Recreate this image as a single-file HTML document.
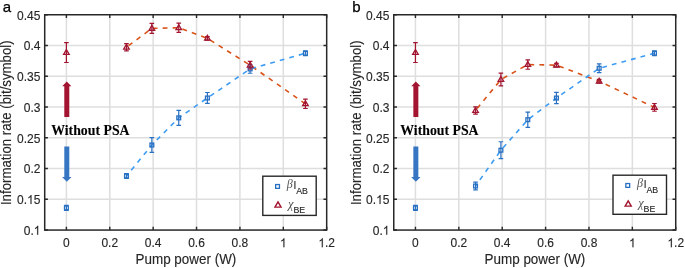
<!DOCTYPE html>
<html><head><meta charset="utf-8"><style>
html,body{margin:0;padding:0;background:#fff;}
body{width:685px;height:268px;overflow:hidden;}
svg{display:block;will-change:transform;}
text{font-family:"Liberation Sans",sans-serif;fill:#262626;stroke:#262626;stroke-width:0.12;}
</style></head><body>
<svg width="685" height="268" viewBox="0 0 685 268">
<rect width="685" height="268" fill="#fff"/>

<path d="M66.40 14.75 V230.07 M109.78 14.75 V230.07 M153.16 14.75 V230.07 M196.54 14.75 V230.07 M239.92 14.75 V230.07 M283.30 14.75 V230.07 M44.71 199.31 H326.68 M44.71 168.55 H326.68 M44.71 137.79 H326.68 M44.71 107.03 H326.68 M44.71 76.27 H326.68 M44.71 45.51 H326.68" stroke="#dedede" stroke-width="1.5" fill="none"/>
<path d="M126.48 47.23 L151.86 28.41 L178.75 27.73 L207.39 38.37 L250.11 65.20 L305.42 103.83" stroke="#d95319" stroke-width="1.6" fill="none" stroke-dasharray="4.8 5.18" stroke-dashoffset="7.45"/>
<path d="M126.48 175.99 L151.86 144.99 L178.75 117.86 L207.39 97.99 L250.11 68.95 L305.42 53.26" stroke="#3d9cf2" stroke-width="1.6" fill="none" stroke-dasharray="4.8 5.10" stroke-dashoffset="2.40"/>
<path d="M66.40 205.46 V210.38 M64.10 205.46 H68.70 M64.10 210.38 H68.70" stroke="#2870c2" stroke-width="1.20" fill="none"/>
<rect x="64.50" y="206.02" width="3.80" height="3.80" fill="none" stroke="#2870c2" stroke-width="1.30"/>
<path d="M126.48 173.53 V178.45 M124.18 173.53 H128.78 M124.18 178.45 H128.78" stroke="#2870c2" stroke-width="1.20" fill="none"/>
<rect x="124.58" y="174.09" width="3.80" height="3.80" fill="none" stroke="#2870c2" stroke-width="1.30"/>
<path d="M151.86 137.54 V152.43 M149.56 137.54 H154.16 M149.56 152.43 H154.16" stroke="#2870c2" stroke-width="1.20" fill="none"/>
<rect x="149.96" y="143.09" width="3.80" height="3.80" fill="none" stroke="#2870c2" stroke-width="1.30"/>
<path d="M178.75 110.35 V125.36 M176.45 110.35 H181.05 M176.45 125.36 H181.05" stroke="#2870c2" stroke-width="1.20" fill="none"/>
<rect x="176.85" y="115.96" width="3.80" height="3.80" fill="none" stroke="#2870c2" stroke-width="1.30"/>
<path d="M207.39 92.51 V103.46 M205.09 92.51 H209.69 M205.09 103.46 H209.69" stroke="#2870c2" stroke-width="1.20" fill="none"/>
<rect x="205.49" y="96.09" width="3.80" height="3.80" fill="none" stroke="#2870c2" stroke-width="1.30"/>
<path d="M250.11 64.64 V73.26 M247.81 64.64 H252.41 M247.81 73.26 H252.41" stroke="#2870c2" stroke-width="1.20" fill="none"/>
<rect x="248.21" y="67.05" width="3.80" height="3.80" fill="none" stroke="#2870c2" stroke-width="1.30"/>
<path d="M305.42 50.80 V55.72 M303.12 50.80 H307.72 M303.12 55.72 H307.72" stroke="#2870c2" stroke-width="1.20" fill="none"/>
<rect x="303.52" y="51.36" width="3.80" height="3.80" fill="none" stroke="#2870c2" stroke-width="1.30"/>
<path d="M66.40 42.68 V62.49 M64.10 42.68 H68.70 M64.10 62.49 H68.70" stroke="#a2142f" stroke-width="1.20" fill="none"/>
<path d="M66.40 49.58 L69.20 54.43 L63.60 54.43 Z" fill="none" stroke="#a2142f" stroke-width="1.30"/>
<path d="M126.48 43.54 V50.92 M124.18 43.54 H128.78 M124.18 50.92 H128.78" stroke="#a2142f" stroke-width="1.20" fill="none"/>
<path d="M126.48 44.23 L129.28 49.08 L123.68 49.08 Z" fill="none" stroke="#a2142f" stroke-width="1.30"/>
<path d="M151.86 23.36 V33.45 M149.56 23.36 H154.16 M149.56 33.45 H154.16" stroke="#a2142f" stroke-width="1.20" fill="none"/>
<path d="M151.86 25.40 L154.66 30.25 L149.06 30.25 Z" fill="none" stroke="#a2142f" stroke-width="1.30"/>
<path d="M178.75 23.06 V32.41 M176.45 23.06 H181.05 M176.45 32.41 H181.05" stroke="#a2142f" stroke-width="1.20" fill="none"/>
<path d="M178.75 24.72 L181.55 29.57 L175.95 29.57 Z" fill="none" stroke="#a2142f" stroke-width="1.30"/>
<path d="M207.39 36.53 V40.22 M205.09 36.53 H209.69 M205.09 40.22 H209.69" stroke="#a2142f" stroke-width="1.20" fill="none"/>
<path d="M207.39 35.37 L210.19 40.22 L204.59 40.22 Z" fill="none" stroke="#a2142f" stroke-width="1.30"/>
<path d="M250.11 61.38 V69.01 M247.81 61.38 H252.41 M247.81 69.01 H252.41" stroke="#a2142f" stroke-width="1.20" fill="none"/>
<path d="M250.11 62.19 L252.91 67.04 L247.31 67.04 Z" fill="none" stroke="#a2142f" stroke-width="1.30"/>
<path d="M305.42 99.16 V108.51 M303.12 99.16 H307.72 M303.12 108.51 H307.72" stroke="#a2142f" stroke-width="1.20" fill="none"/>
<path d="M305.42 100.82 L308.22 105.67 L302.62 105.67 Z" fill="none" stroke="#a2142f" stroke-width="1.30"/>
<path d="M62.20 86.3 L66.80 81.4 L71.40 86.3 L69.30 86.3 L69.30 117 L64.30 117 L64.30 86.3 Z" fill="#a2142f"/>
<path d="M64.30 146.5 L69.30 146.5 L69.30 177 L71.50 177 L66.80 181.7 L62.10 177 L64.30 177 Z" fill="#3575c2"/>
<text x="51.20" y="135.3" style="font-family:'Liberation Serif',serif;font-weight:bold;font-size:13.8px;fill:#000">Without PSA</text>
<rect x="44.71" y="14.75" width="281.97" height="215.32" fill="none" stroke="#282828" stroke-width="1.5"/>
<path d="M66.40 230.07 v-3.2 M66.40 14.75 v3.2 M109.78 230.07 v-3.2 M109.78 14.75 v3.2 M153.16 230.07 v-3.2 M153.16 14.75 v3.2 M196.54 230.07 v-3.2 M196.54 14.75 v3.2 M239.92 230.07 v-3.2 M239.92 14.75 v3.2 M283.30 230.07 v-3.2 M283.30 14.75 v3.2 M326.68 230.07 v-3.2 M326.68 14.75 v3.2 M44.71 230.07 h3.2 M326.68 230.07 h-3.2 M44.71 199.31 h3.2 M326.68 199.31 h-3.2 M44.71 168.55 h3.2 M326.68 168.55 h-3.2 M44.71 137.79 h3.2 M326.68 137.79 h-3.2 M44.71 107.03 h3.2 M326.68 107.03 h-3.2 M44.71 76.27 h3.2 M326.68 76.27 h-3.2 M44.71 45.51 h3.2 M326.68 45.51 h-3.2 M44.71 14.75 h3.2 M326.68 14.75 h-3.2" stroke="#282828" stroke-width="1.4" fill="none"/>
<g transform="translate(63.06 247.30) scale(1 1.050)"><text x="0" y="0" font-size="12">0</text></g>
<g transform="translate(101.44 247.30) scale(1 1.050)"><text x="0" y="0" font-size="12">0.2</text></g>
<g transform="translate(144.82 247.30) scale(1 1.050)"><text x="0" y="0" font-size="12">0.4</text></g>
<g transform="translate(188.20 247.30) scale(1 1.050)"><text x="0" y="0" font-size="12">0.6</text></g>
<g transform="translate(231.58 247.30) scale(1 1.050)"><text x="0" y="0" font-size="12">0.8</text></g>
<g transform="translate(279.96 247.30) scale(1 1.050)"><text x="0" y="0" font-size="12"><tspan visibility="hidden">1</tspan></text><path transform="translate(0.000 0) scale(0.005859 -0.005859)" d="M763 0L583 0L583 1147Q518 1085 412 1023Q306 961 221 930L221 1104Q372 1175 485 1276Q598 1377 645 1472L763 1472Z" fill="#262626" stroke="#262626" stroke-width="16"/></g>
<g transform="translate(318.34 247.30) scale(1 1.050)"><text x="0" y="0" font-size="12"><tspan visibility="hidden">1</tspan>.2</text><path transform="translate(0.000 0) scale(0.005859 -0.005859)" d="M763 0L583 0L583 1147Q518 1085 412 1023Q306 961 221 930L221 1104Q372 1175 485 1276Q598 1377 645 1472L763 1472Z" fill="#262626" stroke="#262626" stroke-width="16"/></g>
<g transform="translate(23.73 234.87) scale(1 1.050)"><text x="0" y="0" font-size="12">0.<tspan visibility="hidden">1</tspan></text><path transform="translate(10.008 0) scale(0.005859 -0.005859)" d="M763 0L583 0L583 1147Q518 1085 412 1023Q306 961 221 930L221 1104Q372 1175 485 1276Q598 1377 645 1472L763 1472Z" fill="#262626" stroke="#262626" stroke-width="16"/></g>
<g transform="translate(17.05 204.11) scale(1 1.050)"><text x="0" y="0" font-size="12">0.<tspan visibility="hidden">1</tspan>5</text><path transform="translate(10.008 0) scale(0.005859 -0.005859)" d="M763 0L583 0L583 1147Q518 1085 412 1023Q306 961 221 930L221 1104Q372 1175 485 1276Q598 1377 645 1472L763 1472Z" fill="#262626" stroke="#262626" stroke-width="16"/></g>
<g transform="translate(23.73 173.35) scale(1 1.050)"><text x="0" y="0" font-size="12">0.2</text></g>
<g transform="translate(17.05 142.59) scale(1 1.050)"><text x="0" y="0" font-size="12">0.25</text></g>
<g transform="translate(23.73 111.83) scale(1 1.050)"><text x="0" y="0" font-size="12">0.3</text></g>
<g transform="translate(17.05 81.07) scale(1 1.050)"><text x="0" y="0" font-size="12">0.35</text></g>
<g transform="translate(23.73 50.31) scale(1 1.050)"><text x="0" y="0" font-size="12">0.4</text></g>
<g transform="translate(17.05 19.55) scale(1 1.050)"><text x="0" y="0" font-size="12">0.45</text></g>
<text transform="translate(185.89 264) scale(1 1.06)" font-size="13.45" text-anchor="middle">Pump power (W)</text>
<text transform="translate(11.40 122.71) rotate(-90) scale(1 1.04)" font-size="13.25" text-anchor="middle">Information rate (bit/symbol)</text>
<text x="2.70" y="12.0" font-size="15" style="fill:#000;stroke:#000;stroke-width:0.25">a</text>
<rect x="262.80" y="176.20" width="53.40" height="39.20" fill="#fff" stroke="#282828" stroke-width="1.4"/>
<rect x="275.65" y="184.55" width="3.80" height="3.80" fill="none" stroke="#2870c2" stroke-width="1.30"/>
<path d="M278.00 201.82 L281.05 207.11 L274.95 207.11 Z" fill="none" stroke="#a2142f" stroke-width="1.40"/>
<text x="286.80" y="188.40" style="font-family:'Liberation Serif',serif;font-style:italic;font-size:12px;fill:#555;stroke:none">&#946;</text>
<text x="293.50" y="189.00" font-size="10">I</text>
<text x="296.20" y="193.50" font-size="8.8">AB</text>
<text x="288.10" y="207.50" style="font-family:'Liberation Serif',serif;font-style:italic;font-size:12.5px;fill:#555;stroke:none">&#967;</text>
<text x="293.40" y="212.60" font-size="8.8">BE</text>
<path d="M415.45 14.75 V230.07 M458.83 14.75 V230.07 M502.21 14.75 V230.07 M545.59 14.75 V230.07 M588.97 14.75 V230.07 M632.35 14.75 V230.07 M393.76 199.31 H675.73 M393.76 168.55 H675.73 M393.76 137.79 H675.73 M393.76 107.03 H675.73 M393.76 76.27 H675.73 M393.76 45.51 H675.73" stroke="#dedede" stroke-width="1.5" fill="none"/>
<path d="M475.53 110.48 L500.91 79.53 L527.80 64.58 L556.43 65.13 L599.16 81.25 L654.47 107.40" stroke="#d95319" stroke-width="1.6" fill="none" stroke-dasharray="4.8 5.18" stroke-dashoffset="7.45"/>
<path d="M475.53 186.02 L500.91 150.22 L527.80 119.70 L556.43 98.05 L599.16 68.27 L654.47 53.26" stroke="#3d9cf2" stroke-width="1.6" fill="none" stroke-dasharray="4.8 5.10" stroke-dashoffset="2.40"/>
<path d="M415.45 205.46 V210.38 M413.15 205.46 H417.75 M413.15 210.38 H417.75" stroke="#2870c2" stroke-width="1.20" fill="none"/>
<rect x="413.55" y="206.02" width="3.80" height="3.80" fill="none" stroke="#2870c2" stroke-width="1.30"/>
<path d="M475.53 182.15 V189.90 M473.23 182.15 H477.83 M473.23 189.90 H477.83" stroke="#2870c2" stroke-width="1.20" fill="none"/>
<rect x="473.63" y="184.12" width="3.80" height="3.80" fill="none" stroke="#2870c2" stroke-width="1.30"/>
<path d="M500.91 141.73 V158.71 M498.61 141.73 H503.21 M498.61 158.71 H503.21" stroke="#2870c2" stroke-width="1.20" fill="none"/>
<rect x="499.01" y="148.32" width="3.80" height="3.80" fill="none" stroke="#2870c2" stroke-width="1.30"/>
<path d="M527.80 112.07 V127.33 M525.50 112.07 H530.10 M525.50 127.33 H530.10" stroke="#2870c2" stroke-width="1.20" fill="none"/>
<rect x="525.90" y="117.80" width="3.80" height="3.80" fill="none" stroke="#2870c2" stroke-width="1.30"/>
<path d="M556.43 92.45 V103.65 M554.13 92.45 H558.73 M554.13 103.65 H558.73" stroke="#2870c2" stroke-width="1.20" fill="none"/>
<rect x="554.53" y="96.15" width="3.80" height="3.80" fill="none" stroke="#2870c2" stroke-width="1.30"/>
<path d="M599.16 63.97 V72.58 M596.86 63.97 H601.46 M596.86 72.58 H601.46" stroke="#2870c2" stroke-width="1.20" fill="none"/>
<rect x="597.26" y="66.37" width="3.80" height="3.80" fill="none" stroke="#2870c2" stroke-width="1.30"/>
<path d="M654.47 50.80 V55.72 M652.17 50.80 H656.77 M652.17 55.72 H656.77" stroke="#2870c2" stroke-width="1.20" fill="none"/>
<rect x="652.57" y="51.36" width="3.80" height="3.80" fill="none" stroke="#2870c2" stroke-width="1.30"/>
<path d="M415.45 42.68 V62.49 M413.15 42.68 H417.75 M413.15 62.49 H417.75" stroke="#a2142f" stroke-width="1.20" fill="none"/>
<path d="M415.45 49.58 L418.25 54.43 L412.65 54.43 Z" fill="none" stroke="#a2142f" stroke-width="1.30"/>
<path d="M475.53 106.78 V114.17 M473.23 106.78 H477.83 M473.23 114.17 H477.83" stroke="#a2142f" stroke-width="1.20" fill="none"/>
<path d="M475.53 107.47 L478.33 112.32 L472.73 112.32 Z" fill="none" stroke="#a2142f" stroke-width="1.30"/>
<path d="M500.91 73.19 V85.87 M498.61 73.19 H503.21 M498.61 85.87 H503.21" stroke="#a2142f" stroke-width="1.20" fill="none"/>
<path d="M500.91 76.52 L503.71 81.37 L498.11 81.37 Z" fill="none" stroke="#a2142f" stroke-width="1.30"/>
<path d="M527.80 59.91 V69.26 M525.50 59.91 H530.10 M525.50 69.26 H530.10" stroke="#a2142f" stroke-width="1.20" fill="none"/>
<path d="M527.80 61.57 L530.60 66.42 L525.00 66.42 Z" fill="none" stroke="#a2142f" stroke-width="1.30"/>
<path d="M556.43 63.29 V66.98 M554.13 63.29 H558.73 M554.13 66.98 H558.73" stroke="#a2142f" stroke-width="1.20" fill="none"/>
<path d="M556.43 62.13 L559.23 66.98 L553.63 66.98 Z" fill="none" stroke="#a2142f" stroke-width="1.30"/>
<path d="M599.16 79.41 V83.10 M596.86 79.41 H601.46 M596.86 83.10 H601.46" stroke="#a2142f" stroke-width="1.20" fill="none"/>
<path d="M599.16 78.25 L601.96 83.10 L596.36 83.10 Z" fill="none" stroke="#a2142f" stroke-width="1.30"/>
<path d="M654.47 103.52 V111.27 M652.17 103.52 H656.77 M652.17 111.27 H656.77" stroke="#a2142f" stroke-width="1.20" fill="none"/>
<path d="M654.47 104.39 L657.27 109.24 L651.67 109.24 Z" fill="none" stroke="#a2142f" stroke-width="1.30"/>
<path d="M411.25 86.3 L415.85 81.4 L420.45 86.3 L418.35 86.3 L418.35 117 L413.35 117 L413.35 86.3 Z" fill="#a2142f"/>
<path d="M413.35 146.5 L418.35 146.5 L418.35 177 L420.55 177 L415.85 181.7 L411.15 177 L413.35 177 Z" fill="#3575c2"/>
<text x="400.25" y="135.3" style="font-family:'Liberation Serif',serif;font-weight:bold;font-size:13.8px;fill:#000">Without PSA</text>
<rect x="393.76" y="14.75" width="281.97" height="215.32" fill="none" stroke="#282828" stroke-width="1.5"/>
<path d="M415.45 230.07 v-3.2 M415.45 14.75 v3.2 M458.83 230.07 v-3.2 M458.83 14.75 v3.2 M502.21 230.07 v-3.2 M502.21 14.75 v3.2 M545.59 230.07 v-3.2 M545.59 14.75 v3.2 M588.97 230.07 v-3.2 M588.97 14.75 v3.2 M632.35 230.07 v-3.2 M632.35 14.75 v3.2 M675.73 230.07 v-3.2 M675.73 14.75 v3.2 M393.76 230.07 h3.2 M675.73 230.07 h-3.2 M393.76 199.31 h3.2 M675.73 199.31 h-3.2 M393.76 168.55 h3.2 M675.73 168.55 h-3.2 M393.76 137.79 h3.2 M675.73 137.79 h-3.2 M393.76 107.03 h3.2 M675.73 107.03 h-3.2 M393.76 76.27 h3.2 M675.73 76.27 h-3.2 M393.76 45.51 h3.2 M675.73 45.51 h-3.2 M393.76 14.75 h3.2 M675.73 14.75 h-3.2" stroke="#282828" stroke-width="1.4" fill="none"/>
<g transform="translate(412.11 247.30) scale(1 1.050)"><text x="0" y="0" font-size="12">0</text></g>
<g transform="translate(450.49 247.30) scale(1 1.050)"><text x="0" y="0" font-size="12">0.2</text></g>
<g transform="translate(493.87 247.30) scale(1 1.050)"><text x="0" y="0" font-size="12">0.4</text></g>
<g transform="translate(537.25 247.30) scale(1 1.050)"><text x="0" y="0" font-size="12">0.6</text></g>
<g transform="translate(580.63 247.30) scale(1 1.050)"><text x="0" y="0" font-size="12">0.8</text></g>
<g transform="translate(629.01 247.30) scale(1 1.050)"><text x="0" y="0" font-size="12"><tspan visibility="hidden">1</tspan></text><path transform="translate(0.000 0) scale(0.005859 -0.005859)" d="M763 0L583 0L583 1147Q518 1085 412 1023Q306 961 221 930L221 1104Q372 1175 485 1276Q598 1377 645 1472L763 1472Z" fill="#262626" stroke="#262626" stroke-width="16"/></g>
<g transform="translate(667.39 247.30) scale(1 1.050)"><text x="0" y="0" font-size="12"><tspan visibility="hidden">1</tspan>.2</text><path transform="translate(0.000 0) scale(0.005859 -0.005859)" d="M763 0L583 0L583 1147Q518 1085 412 1023Q306 961 221 930L221 1104Q372 1175 485 1276Q598 1377 645 1472L763 1472Z" fill="#262626" stroke="#262626" stroke-width="16"/></g>
<g transform="translate(372.78 234.87) scale(1 1.050)"><text x="0" y="0" font-size="12">0.<tspan visibility="hidden">1</tspan></text><path transform="translate(10.008 0) scale(0.005859 -0.005859)" d="M763 0L583 0L583 1147Q518 1085 412 1023Q306 961 221 930L221 1104Q372 1175 485 1276Q598 1377 645 1472L763 1472Z" fill="#262626" stroke="#262626" stroke-width="16"/></g>
<g transform="translate(366.10 204.11) scale(1 1.050)"><text x="0" y="0" font-size="12">0.<tspan visibility="hidden">1</tspan>5</text><path transform="translate(10.008 0) scale(0.005859 -0.005859)" d="M763 0L583 0L583 1147Q518 1085 412 1023Q306 961 221 930L221 1104Q372 1175 485 1276Q598 1377 645 1472L763 1472Z" fill="#262626" stroke="#262626" stroke-width="16"/></g>
<g transform="translate(372.78 173.35) scale(1 1.050)"><text x="0" y="0" font-size="12">0.2</text></g>
<g transform="translate(366.10 142.59) scale(1 1.050)"><text x="0" y="0" font-size="12">0.25</text></g>
<g transform="translate(372.78 111.83) scale(1 1.050)"><text x="0" y="0" font-size="12">0.3</text></g>
<g transform="translate(366.10 81.07) scale(1 1.050)"><text x="0" y="0" font-size="12">0.35</text></g>
<g transform="translate(372.78 50.31) scale(1 1.050)"><text x="0" y="0" font-size="12">0.4</text></g>
<g transform="translate(366.10 19.55) scale(1 1.050)"><text x="0" y="0" font-size="12">0.45</text></g>
<text transform="translate(534.95 264) scale(1 1.06)" font-size="13.45" text-anchor="middle">Pump power (W)</text>
<text transform="translate(361.00 122.71) rotate(-90) scale(1 1.04)" font-size="13.25" text-anchor="middle">Information rate (bit/symbol)</text>
<text x="352.20" y="12.0" font-size="15" style="fill:#000;stroke:#000;stroke-width:0.25">b</text>
<rect x="613.00" y="175.20" width="53.50" height="39.10" fill="#fff" stroke="#282828" stroke-width="1.4"/>
<rect x="625.85" y="183.55" width="3.80" height="3.80" fill="none" stroke="#2870c2" stroke-width="1.30"/>
<path d="M628.20 200.82 L631.25 206.11 L625.15 206.11 Z" fill="none" stroke="#a2142f" stroke-width="1.40"/>
<text x="637.00" y="187.40" style="font-family:'Liberation Serif',serif;font-style:italic;font-size:12px;fill:#555;stroke:none">&#946;</text>
<text x="643.70" y="188.00" font-size="10">I</text>
<text x="646.40" y="192.50" font-size="8.8">AB</text>
<text x="638.30" y="206.50" style="font-family:'Liberation Serif',serif;font-style:italic;font-size:12.5px;fill:#555;stroke:none">&#967;</text>
<text x="643.60" y="211.60" font-size="8.8">BE</text>
</svg>
</body></html>
